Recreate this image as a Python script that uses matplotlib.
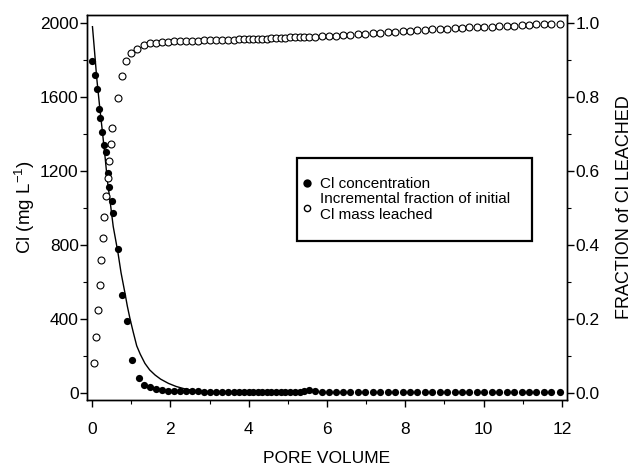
import matplotlib
matplotlib.use('Agg')
import matplotlib.pyplot as plt
from matplotlib.lines import Line2D
from matplotlib.patches import Rectangle
from matplotlib.ticker import MultipleLocator

#------------------------------------------------------------------------------#

plt.rc('font', family='Liberation Sans')
plt.rc('font', size=12.5)
plt.rc('mathtext', fontset='custom', rm='Liberation Sans', it='Liberation Sans')

# Cl concentration (closed circles), first part of the breakthrough
pv_conc_early = [0.00, 0.07, 0.12, 0.17, 0.21, 0.26, 0.31, 0.36, 0.40, 0.44,
                 0.50, 0.54, 0.66, 0.77, 0.88, 1.03, 1.19]
conc_early = [1795, 1717, 1642, 1535, 1485, 1412, 1340, 1304, 1187, 1112,
              1038, 971, 777, 530, 391, 178, 83]

# cumulative fraction leached (open circles), first part
pv_frac_early = [0.06, 0.10, 0.15, 0.20, 0.23, 0.27, 0.31, 0.36, 0.40, 0.44,
                 0.48, 0.52, 0.65, 0.77, 0.87, 1.00, 1.14]
frac_early = [0.080, 0.152, 0.224, 0.292, 0.359, 0.418, 0.475, 0.532, 0.580, 0.627,
              0.672, 0.715, 0.796, 0.857, 0.897, 0.918, 0.931]

# tail, both series sampled at the same pore volumes
pv_tail = [1.33, 1.48, 1.63, 1.78, 1.93, 2.09, 2.24, 2.39, 2.55, 2.70,
           2.86, 3.01, 3.17, 3.32, 3.48, 3.63, 3.76, 3.88, 4.00, 4.12,
           4.23, 4.35, 4.46, 4.58, 4.70, 4.82, 4.94, 5.06, 5.18, 5.30,
           5.42, 5.55, 5.70, 5.87, 6.05, 6.23, 6.41, 6.60, 6.79, 6.98,
           7.17, 7.36, 7.55, 7.74, 7.93, 8.12, 8.31, 8.50, 8.69, 8.88,
           9.07, 9.26, 9.45, 9.64, 9.83, 10.02, 10.21, 10.40, 10.59, 10.78,
           10.97, 11.16, 11.35, 11.54, 11.73, 11.94]
conc_tail = [43, 31, 22, 16, 13, 12, 11, 10, 9, 9,
             8, 8, 7, 7, 7, 6, 6, 6, 6, 6,
             5, 5, 5, 5, 5, 5, 5, 5, 6, 8,
             12, 15, 10, 7, 6, 6, 6, 6, 5, 5,
             5, 5, 5, 5, 5, 5, 5, 4, 4, 5,
             5, 5, 5, 5, 5, 5, 5, 5, 5, 5,
             5, 5, 5, 5, 5, 5]
frac_tail = [0.941, 0.945, 0.947, 0.948, 0.949, 0.950, 0.951, 0.951, 0.952, 0.952,
             0.953, 0.953, 0.954, 0.954, 0.955, 0.955, 0.956, 0.956, 0.957, 0.957,
             0.958, 0.958, 0.958, 0.959, 0.959, 0.960, 0.960, 0.961, 0.961, 0.962,
             0.962, 0.963, 0.963, 0.964, 0.965, 0.966, 0.967, 0.968, 0.969, 0.971,
             0.972, 0.973, 0.975, 0.976, 0.978, 0.979, 0.980, 0.981, 0.983, 0.984,
             0.985, 0.986, 0.987, 0.988, 0.989, 0.989, 0.990, 0.991, 0.992, 0.993,
             0.994, 0.995, 0.996, 0.996, 0.997, 0.998]

# fitted curve
pv_fit = [0.01, 0.05, 0.12, 0.19, 0.26, 0.33, 0.39, 0.47, 0.54, 0.60,
          0.66, 0.74, 0.84, 0.90, 0.97, 1.05, 1.14, 1.23, 1.35, 1.47,
          1.61, 1.75, 1.95, 2.15, 2.37, 2.55, 2.80, 3.00, 3.30, 3.70, 4.00]
conc_fit = [1980, 1880, 1700, 1555, 1420, 1280, 1150, 1020, 900, 830,
            760, 650, 540, 470, 400, 330, 255, 210, 160, 125,
            97, 75, 52, 35, 22, 15, 8, 6, 3, 2, 1]

#------------------------------------------------------------------------------#

def main():

    fig = plt.figure(figsize=(6.34, 4.71), dpi=100)
    ax = fig.add_axes([0.1372, 0.1507, 0.7571, 0.8174])
    ax2 = ax.twinx()

    ax.plot(pv_fit, conc_fit, color='black', lw=1.0)
    ax.plot(pv_conc_early + pv_tail, conc_early + conc_tail, 'o', color='black',
            ms=5.2, mew=0)
    ax2.plot(pv_frac_early + pv_tail, frac_early + frac_tail, 'o', mfc='white',
             mec='black', ms=5.0, mew=0.8)

    ax.set_xlim(-0.13, 12.13)
    ax.set_ylim(-38, 2043)
    ax2.set_ylim(-38 / 2000, 2043 / 2000)

    ax.xaxis.set_major_locator(MultipleLocator(2))
    ax.xaxis.set_minor_locator(MultipleLocator(1))
    ax.yaxis.set_major_locator(MultipleLocator(400))
    ax.yaxis.set_minor_locator(MultipleLocator(200))
    ax2.yaxis.set_major_locator(MultipleLocator(0.2))
    ax2.yaxis.set_minor_locator(MultipleLocator(0.1))
    ax2.yaxis.set_major_formatter(plt.FormatStrFormatter('%.1f'))

    for a in (ax, ax2):
        a.tick_params(which='major', direction='out', length=5, width=1)
        a.tick_params(which='minor', direction='out', length=3, width=0.8)
        for s in a.spines.values():
            s.set_linewidth(1.0)
    ax.tick_params(axis='y', pad=1)
    ax.tick_params(axis='x', pad=11)
    ax2.tick_params(axis='y', pad=1)

    ax.set_xlabel('PORE VOLUME', fontsize=12.5, labelpad=10)
    ax.set_ylabel('Cl (mg L$^{-1}$)', fontsize=13.5, labelpad=2)
    ax2.set_ylabel('FRACTION of Cl LEACHED', fontsize=13, labelpad=12)

    # legend box drawn by hand, entries without frame
    box = Rectangle((0.4375, 0.413), 0.4896, 0.2156, transform=ax.transAxes,
                    fill=True, facecolor='white', edgecolor='black', lw=1.6,
                    zorder=4)
    ax2.add_patch(box)

    handles = [Line2D([], [], ls='none', marker='o', color='black', ms=6, mew=0),
               Line2D([], [], ls='none', marker='o', mfc='white', mec='black',
                      ms=4.5, mew=1.0)]
    labels = ['Cl concentration', 'Incremental fraction of initial\nCl mass leached']
    leg = ax2.legend(handles, labels, loc='upper left',
                     bbox_to_anchor=(0.446, 0.578), bbox_transform=ax.transAxes,
                     fontsize=11, handlelength=0.8, handletextpad=0.45,
                     labelspacing=0.05, borderpad=0, borderaxespad=0,
                     frameon=False)
    leg.set_zorder(5)

    fig.savefig('out.png', dpi=100)

#------------------------------------------------------------------------------#

if __name__ == "__main__":
    main()
